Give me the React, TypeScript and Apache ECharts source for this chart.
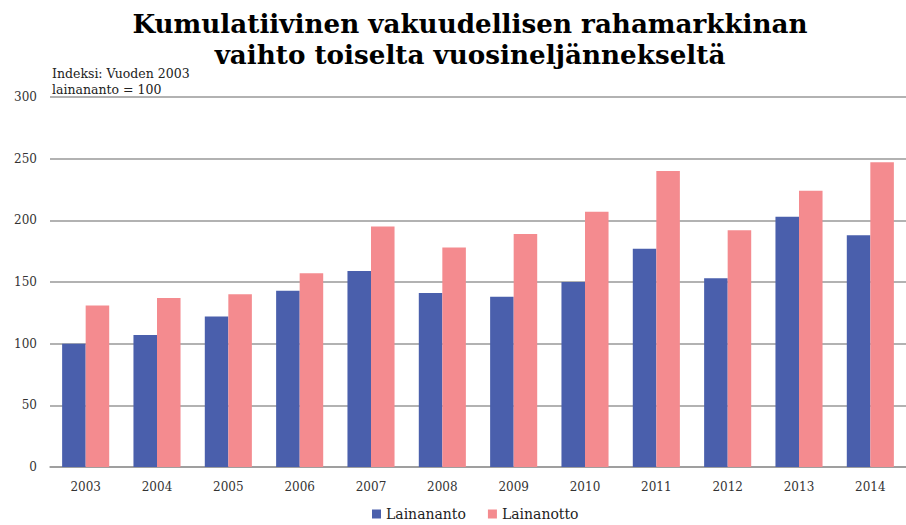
import React, { useEffect, useRef } from "react";
import * as echarts from "echarts";

const categories = ["2003", "2004", "2005", "2006", "2007", "2008", "2009", "2010", "2011", "2012", "2013", "2014"];
const lainananto = [100, 107, 122, 143, 159, 141, 138, 150, 177, 153, 203, 188];
const lainanotto = [131, 137, 140, 157, 195, 178, 189, 207, 240, 192, 224, 247];
const yTicks = { min: 0, max: 300, interval: 50 };

const serif = "'DejaVu Serif', Georgia, serif";

export default function App() {
  const ref = useRef<HTMLDivElement>(null);
  useEffect(() => {
    const chart = echarts.init(ref.current!, null, { renderer: "svg" });
    chart.setOption({
      animation: false,
      backgroundColor: "#ffffff",
      title: {
        text: "Kumulatiivinen vakuudellisen rahamarkkinan\nvaihto toiselta vuosineljännekseltä",
        left: 465,
        textAlign: "center",
        top: 3,
        textStyle: { fontFamily: serif, fontWeight: "bold", fontSize: 26.2, lineHeight: 31, color: "#000" },
      },
      graphic: [
        {
          type: "text",
          left: 52,
          top: 65,
          style: {
            text: "Indeksi: Vuoden 2003\nlainananto = 100",
            font: `12.5px ${serif}`,
            lineHeight: 16,
            fill: "#222",
          },
        },
      ],
      legend: {
        bottom: -1,
        left: 367,
        itemWidth: 9,
        itemHeight: 9,
        itemGap: 22,
        icon: "rect",
        textStyle: { fontFamily: serif, fontSize: 14, color: "#222" },
        data: ["Lainananto", "Lainanotto"],
      },
      grid: { left: 50, right: -3, top: 97, bottom: 58 },
      xAxis: {
        type: "category",
        data: categories,
        axisTick: { show: false },
        axisLine: { lineStyle: { color: "#999", width: 1.5 } },
        axisLabel: { fontFamily: serif, fontSize: 12, color: "#333", margin: 14 },
      },
      yAxis: {
        type: "value",
        min: yTicks.min,
        max: yTicks.max,
        interval: yTicks.interval,
        axisLine: { show: false },
        axisTick: { show: false },
        splitLine: { lineStyle: { color: "#999", width: 1.5 } },
        axisLabel: { fontFamily: serif, fontSize: 12, color: "#333", margin: 13 },
      },
      series: [
        {
          name: "Lainananto",
          type: "bar",
          data: lainananto,
          barGap: "0%",
          barCategoryGap: "34%",
          itemStyle: { color: "#4a5fac" },
        },
        {
          name: "Lainanotto",
          type: "bar",
          data: lainanotto,
          itemStyle: { color: "#f48b8f" },
        },
      ],
    });
    return () => chart.dispose();
  }, []);
  return <div ref={ref} style={{ width: 906, height: 525, position: "absolute", left: 0, top: 0 }} />;
}
